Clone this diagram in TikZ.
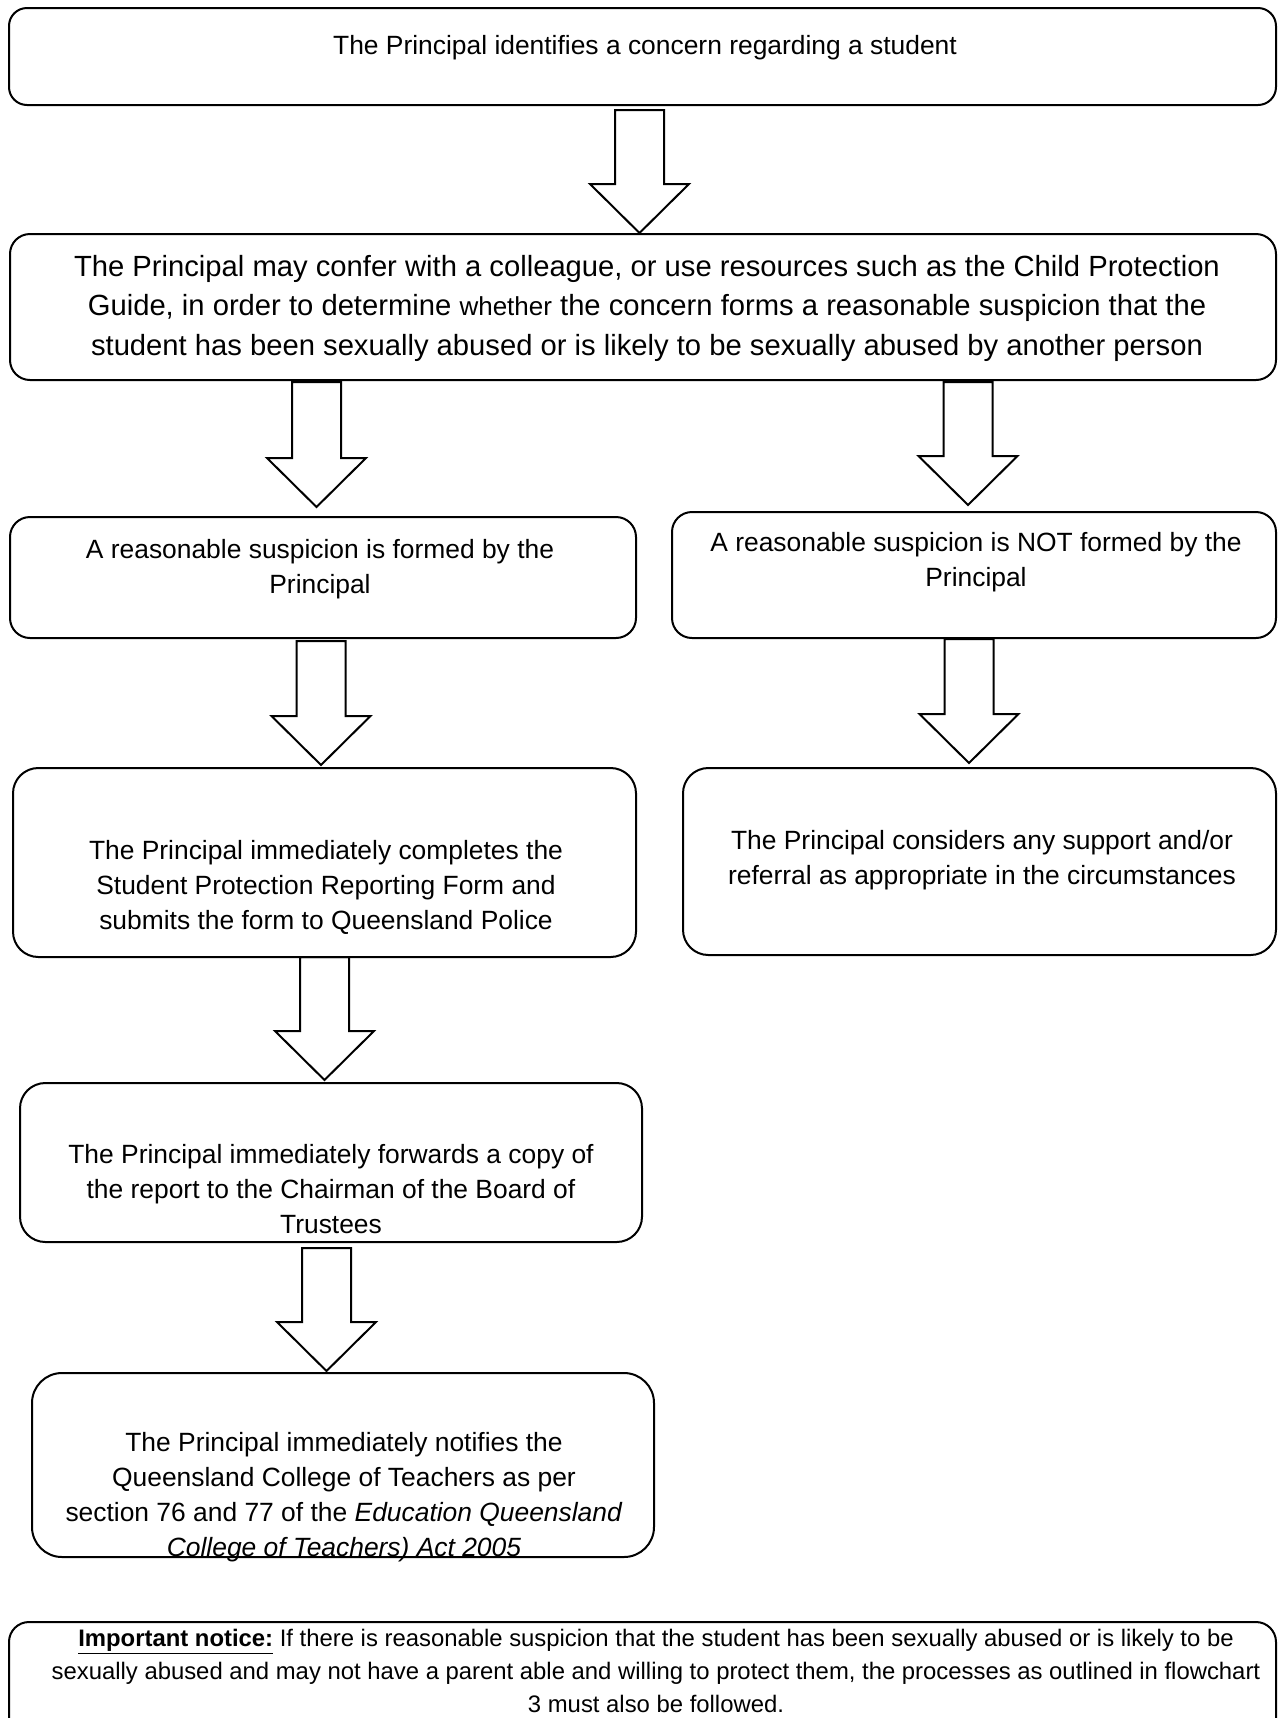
\documentclass[tikz,border=0pt]{standalone}
\usepackage{fontspec}
\setmainfont{Liberation Sans}
\usetikzlibrary{calc,fit}

\tikzset{every picture/.style={line width=1.5pt}}
\tikzset{
  stepbox/.style={draw, rounded corners=#1, inner sep=0pt, outer sep=0pt},
  stepbox/.default=15pt,
  boxtext/.style={align=center, inner sep=0pt, font=\fontsize{19.8}{26.25}\selectfont},
  bigtext/.style={align=center, inner sep=0pt, font=\fontsize{21.9}{29.6}\selectfont},
  notetext/.style={align=center, inner sep=0pt, font=\fontsize{17.9}{25}\selectfont},
  downarrow/.style={to path={
    ($(\tikztostart)+(-24.5,0)$) -- ($(\tikztostart)+(24.5,0)$) -- ($(\tikztotarget)+(24.5,-49)$)
    -- ($(\tikztotarget)+(49.5,-49)$) -- (\tikztotarget) -- ($(\tikztotarget)+(-49.5,-49)$)
    -- ($(\tikztotarget)+(-24.5,-49)$) -- cycle}}
}

\begin{document}
\begin{tikzpicture}[x=0.75pt,y=0.75pt,yscale=-1,xscale=1]
	\useasboundingbox (0,0) rectangle (1278,1718);

	%Shape: Rounded Rect
	\node[stepbox=13.5pt, fit={(9,8) (1276,105)}] (box1) {};
	%Shape: Rounded Rect
	\node[stepbox, fit={(10,234) (1276,380)}] (box2) {};
	%Shape: Rounded Rect
	\node[stepbox, fit={(10,517) (636,638)}] (box3l) {};
	%Shape: Rounded Rect
	\node[stepbox, fit={(672,512) (1276,638)}] (box3r) {};
	%Shape: Rounded Rect
	\node[stepbox=19pt, fit={(13,768) (636,957)}] (box4l) {};
	%Shape: Rounded Rect
	\node[stepbox=19pt, fit={(683,768) (1276,955)}] (box4r) {};
	%Shape: Rounded Rect
	\node[stepbox=19pt, fit={(20,1083) (642,1242)}] (box5) {};
	%Shape: Rounded Rect
	\node[stepbox=22.5pt, fit={(32,1373) (654,1557)}] (box6) {};
	%Shape: Rounded Rect
	\node[stepbox, fit={(9,1622) (1276,1745)}] (notebox) {};

	%Down Arrows
	\coordinate (a1s) at (639.5,110);  \coordinate (a1e) at (639.5,233);
	\coordinate (a2ls) at (316.5,382); \coordinate (a2le) at (316.5,507);
	\coordinate (a2rs) at (968,382);   \coordinate (a2re) at (968,505);
	\coordinate (a3ls) at (321,641);   \coordinate (a3le) at (321,765);
	\coordinate (a3rs) at (969,639);   \coordinate (a3re) at (969,763);
	\coordinate (a4s) at (324.5,957);  \coordinate (a4e) at (324.5,1080);
	\coordinate (a5s) at (326.5,1248); \coordinate (a5e) at (326.5,1371);
	\draw[downarrow] (a1s) to (a1e);
	\draw[downarrow] (a2ls) to (a2le);
	\draw[downarrow] (a2rs) to (a2re);
	\draw[downarrow] (a3ls) to (a3le);
	\draw[downarrow] (a3rs) to (a3re);
	\draw[downarrow] (a4s) to (a4e);
	\draw[downarrow] (a5s) to (a5e);

	% Text Node
	\node[boxtext] (t1) at (645,48) {The Principal identifies a concern regarding a student};
	% Text Node
	\node[bigtext] (t2) at (647,308) {The Principal may confer with a colleague, or use resources such as the Child Protection\\Guide, in order to determine {\fontsize{19.5}{29.6}\selectfont whether} the concern forms a reasonable suspicion that the\\student has been sexually abused or is likely to be sexually abused by another person};
	% Text Node
	\node[boxtext] (t3l) at (320,569) {A reasonable suspicion is formed by the\\Principal};
	% Text Node
	\node[boxtext] (t3r) at (976,562) {A reasonable suspicion is NOT formed by the\\Principal};
	% Text Node
	\node[boxtext] (t4l) at (326,887) {The Principal immediately completes the\\Student Protection Reporting Form and\\submits the form to Queensland Police};
	% Text Node
	\node[boxtext] (t4r) at (982,860) {The Principal considers any support and/or\\referral as appropriate in the circumstances};
	% Text Node
	\node[boxtext] (t5) at (331,1189) {The Principal immediately forwards a copy of\\the report to the Chairman of the Board of\\Trustees};
	% Text Node
	\node[boxtext] (t6) at (344,1497) {The Principal immediately notifies the\\Queensland College of Teachers as per\\section 76 and 77 of the \textit{Education Queensland}\\\textit{College of Teachers) Act 2005}};
	% Text Node
	\node[notetext] (t7) at (656,1671) {\textbf{\underline{Important notice:}} If there is reasonable suspicion that the student has been sexually abused or is likely to be\\sexually abused and may not have a parent able and willing to protect them, the processes as outlined in flowchart\\3 must also be followed.};

\end{tikzpicture}
\end{document}
